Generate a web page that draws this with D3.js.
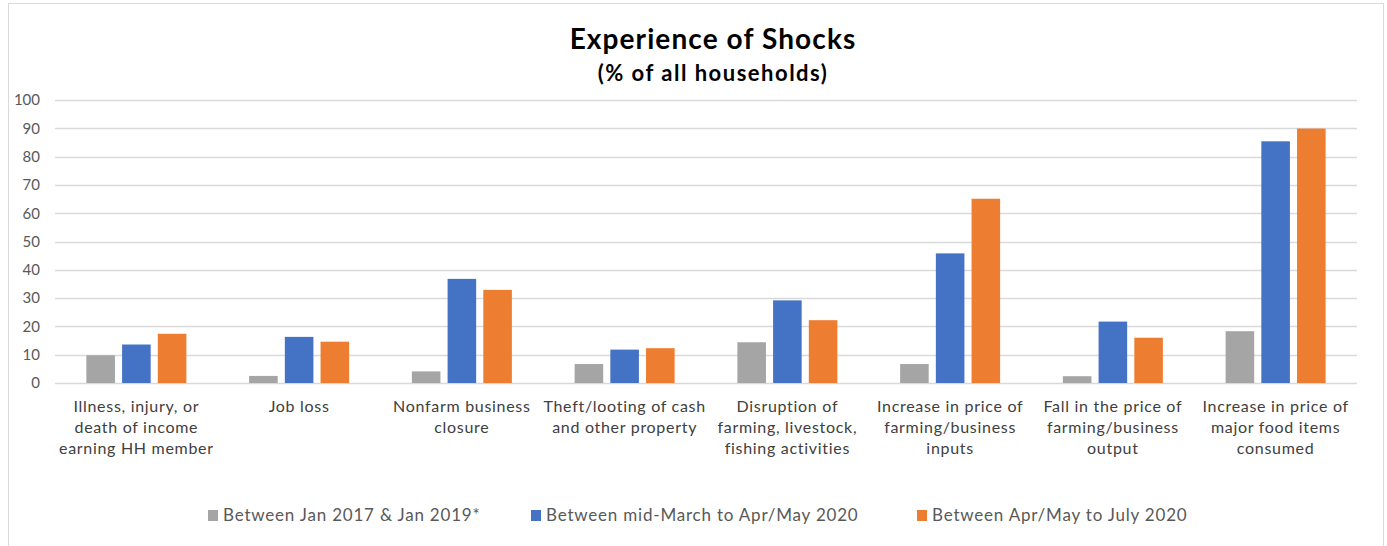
<!DOCTYPE html>
<html>
<head>
<meta charset="utf-8">
<script src="https://cdn.jsdelivr.net/npm/d3@7"></script>
<style>
  body { margin: 0; background: #fff; }
  svg text { font-family: Lato, "Open Sans", sans-serif; }
</style>
</head>
<body>
<div id="chart"></div>
<script>
// Chart data
const categories = [
    ["Illness, injury, or", "death of income", "earning HH member"],
    ["Job loss"],
    ["Nonfarm business", "closure"],
    ["Theft/looting of cash", "and other property"],
    ["Disruption of", "farming, livestock,", "fishing activities"],
    ["Increase in price of", "farming/business", "inputs"],
    ["Fall in the price of", "farming/business", "output"],
    ["Increase in price of", "major food items", "consumed"]
];
const seriesNames = [
    "Between Jan 2017 & Jan 2019*",
    "Between mid-March to Apr/May 2020",
    "Between Apr/May to July 2020"
];
const seriesColors = ["#a5a5a5", "#4472c4", "#ed7d31"];
const preCovid = [9.8, 2.5, 4.1, 6.7, 14.4, 6.7, 2.4, 18.3];
const round1 = [13.6, 16.3, 36.8, 11.8, 29.2, 45.8, 21.7, 85.4];
const round2 = [17.4, 14.6, 32.9, 12.3, 22.2, 65.1, 16.0, 89.9];
const yTicks = [0, 10, 20, 30, 40, 50, 60, 70, 80, 90, 100];

const seriesValues = [preCovid, round1, round2];

const width = 1387, height = 546;
const margin = { top: 100, right: 30, bottom: 163, left: 55 };

const svg = d3.select("#chart").append("svg")
    .attr("width", width)
    .attr("height", height);

// outer chart border
svg.append("rect")
    .attr("x", 8.5).attr("y", 3.5)
    .attr("width", 1375).attr("height", 560)
    .attr("fill", "none")
    .attr("stroke", "#d9d9d9");

const x0 = d3.scaleBand()
    .domain(d3.range(categories.length))
    .range([margin.left, width - margin.right])
    .padding(0);

const groupW = 100;
const x1 = d3.scaleBand()
    .domain(d3.range(seriesNames.length))
    .range([0, groupW])
    .paddingInner(0.2);

const y = d3.scaleLinear()
    .domain([0, 100])
    .range([height - margin.bottom, margin.top]);

// gridlines
svg.append("g")
    .selectAll("line")
    .data(yTicks)
    .enter()
    .append("line")
    .attr("x1", margin.left)
    .attr("x2", width - margin.right)
    .attr("y1", d => Math.round(y(d)) + 0.5)
    .attr("y2", d => Math.round(y(d)) + 0.5)
    .attr("stroke", "#d9d9d9")
    .attr("stroke-width", 1.3);

// y axis labels
const yAxis = svg.append("g")
    .attr("transform", `translate(${margin.left - 15},0)`)
    .call(d3.axisLeft(y).tickValues(yTicks).tickSize(0).tickPadding(0));
yAxis.select(".domain").remove();
yAxis.selectAll("text")
    .attr("font-size", 15)
    .attr("fill", "#595959")
    .style("font-family", "Lato, sans-serif");

// bars
const groups = svg.append("g")
    .selectAll("g")
    .data(categories.map((c, i) => i))
    .enter()
    .append("g")
    .attr("transform", i => `translate(${x0(i) + (x0.bandwidth() - groupW) / 2},0)`);

groups.selectAll("rect")
    .data(i => seriesValues.map((vals, s) => ({ s: s, v: vals[i] })))
    .enter()
    .append("rect")
    .attr("x", d => x1(d.s))
    .attr("width", x1.bandwidth())
    .attr("y", d => y(d.v))
    .attr("height", d => y(0) - y(d.v))
    .attr("fill", d => seriesColors[d.s]);

// category labels
const catLabels = svg.append("g")
    .selectAll("text")
    .data(categories)
    .enter()
    .append("text")
    .attr("x", (d, i) => x0(i) + x0.bandwidth() / 2)
    .attr("y", 412)
    .attr("text-anchor", "middle")
    .attr("font-size", 16)
    .attr("letter-spacing", 0.7)
    .attr("fill", "#404040");

catLabels.selectAll("tspan")
    .data(d => d)
    .enter()
    .append("tspan")
    .attr("x", function () { return d3.select(this.parentNode).attr("x"); })
    .attr("dy", (d, i) => i === 0 ? 0 : 21)
    .text(d => d);

// title
svg.append("text")
    .attr("x", 713).attr("y", 49)
    .attr("text-anchor", "middle")
    .attr("font-size", 28)
    .attr("letter-spacing", 1.1)
    .attr("font-weight", "bold")
    .attr("fill", "#000")
    .text("Experience of Shocks");

svg.append("text")
    .attr("x", 713).attr("y", 81)
    .attr("text-anchor", "middle")
    .attr("font-size", 22)
    .attr("letter-spacing", 1.5)
    .attr("font-weight", "bold")
    .attr("fill", "#000")
    .text("(% of all households)");

// legend
const legendX = [208, 531, 917];
const legend = svg.append("g")
    .selectAll("g")
    .data(seriesNames)
    .enter()
    .append("g")
    .attr("transform", (d, i) => `translate(${legendX[i]},521)`);

legend.append("rect")
    .attr("x", 0).attr("y", -11)
    .attr("width", 10).attr("height", 11)
    .attr("fill", (d, i) => seriesColors[i]);

legend.append("text")
    .attr("x", 15).attr("y", 0)
    .attr("font-size", 17)
    .attr("letter-spacing", 0.8)
    .attr("fill", "#595959")
    .text(d => d);
</script>
</body>
</html>
